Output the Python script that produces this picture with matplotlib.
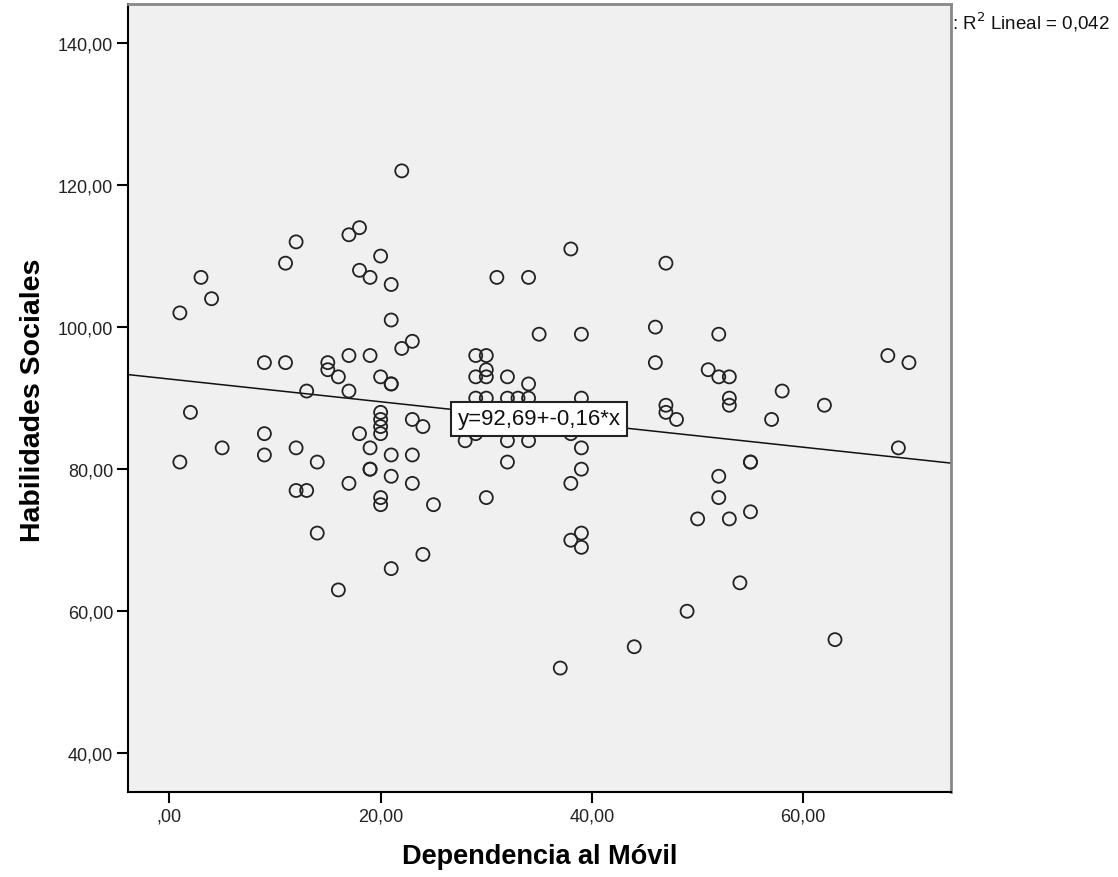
import matplotlib
matplotlib.use("Agg")
import matplotlib.pyplot as plt
import numpy as np

# ---- data ----
dependencia = [
    22, 18, 17, 12, 20, 11, 18, 19, 3, 21, 4, 1, 21, 22, 23, 9, 11, 15, 15, 16,
    17, 19, 20, 21, 21, 13, 17, 2, 20, 20, 20, 20, 23, 24, 9, 18, 5, 9, 12, 19,
    21, 23, 1, 14, 19, 19, 21, 23, 17, 12, 13, 20, 20, 14, 21, 16, 24, 25,
    38, 31, 34, 47, 35, 39, 46, 46, 29, 30, 30, 29, 30, 32, 34, 29, 30, 32, 33,
    34, 39, 28, 29, 32, 34, 38, 32, 30, 39, 39, 38, 39, 38, 39, 44, 37,
    31, 33, 36,
    52, 68, 70, 51, 52, 53, 58, 53, 53, 47, 47, 48, 62, 57, 69, 55, 55, 52, 52,
    55, 50, 53, 54, 49, 63,
]
habilidades = [
    122, 114, 113, 112, 110, 109, 108, 107, 107, 106, 104, 102, 101, 97, 98, 95, 95, 95, 94, 93,
    96, 96, 93, 92, 92, 91, 91, 88, 88, 87, 86, 85, 87, 86, 85, 85, 83, 82, 83, 83,
    82, 82, 81, 81, 80, 80, 79, 78, 78, 77, 77, 76, 75, 71, 66, 63, 68, 75,
    111, 107, 107, 109, 99, 99, 100, 95, 96, 96, 94, 93, 93, 93, 92, 90, 90, 90, 90,
    90, 90, 84, 85, 84, 84, 85, 81, 76, 83, 80, 78, 71, 70, 69, 55, 52,
    88, 87, 86,
    99, 96, 95, 94, 93, 93, 91, 90, 89, 89, 88, 87, 89, 87, 83, 81, 81, 79, 76,
    74, 73, 73, 64, 60, 56,
]
intercept = 92.69
slope = -0.16
r2 = "0,042"

x_ticks = [0, 20, 40, 60]
x_ticklabels = [",00", "20,00", "40,00", "60,00"]
y_ticks = [40, 60, 80, 100, 120, 140]
y_ticklabels = ["40,00", "60,00", "80,00", "100,00", "120,00", "140,00"]

W, H = 1118, 878
fig = plt.figure(figsize=(W / 100, H / 100), dpi=100)
fig.patch.set_facecolor("white")

L, R, T, B = 128.3, 950.7, 5, 793
ax = fig.add_axes([L / W, 1 - B / H, (R - L) / W, (B - T) / H])
ax.set_facecolor("#f0f0f0")
ax.set_xlim(-3.88, 73.95)
ax.set_ylim(34.55, 145.49)

ax.scatter(dependencia, habilidades, s=88, facecolors="none",
           edgecolors="#222222", linewidths=1.3, zorder=3)

ax.axline((0, intercept), slope=slope, color="#111111", lw=1.1, zorder=2)

tick_font = ["Liberation Sans Narrow", "Liberation Sans", "DejaVu Sans"]
ax.set_xticks(x_ticks)
ax.set_xticklabels(x_ticklabels, family=tick_font, fontsize=13, color="#222222")
ax.set_yticks(y_ticks)
ax.set_yticklabels(y_ticklabels, family=tick_font, fontsize=13, color="#222222")
ax.tick_params(direction="out", length=8, width=1.5, color="black", pad=3)

for s in ["left", "bottom"]:
    ax.spines[s].set_color("black")
    ax.spines[s].set_linewidth(1.5)
for s in ["top", "right"]:
    ax.spines[s].set_color("#888888")
    ax.spines[s].set_linewidth(2.0)

xc = 35
ax.text(xc, intercept + slope * xc, "y=92,69+-0,16*x", ha="center", va="center",
        family=tick_font, fontsize=16, color="#111111", zorder=5,
        bbox=dict(boxstyle="square,pad=0.28", fc="white", ec="#222222", lw=1.5))

fig.text((L + R) / 2 / W, 1 - 857 / H, "Dependencia al Móvil",
         ha="center", va="center", fontsize=19.5, fontweight="bold",
         family=["Liberation Sans", "DejaVu Sans"])
fig.text(33 / W, 1 - 400 / H, "Habilidades Sociales", rotation=90,
         ha="center", va="center", fontsize=20.5, fontweight="bold",
         family=["Liberation Sans", "DejaVu Sans"])

fig.text(952 / W, 1 - 22 / H, ": R$^2$ Lineal = " + r2, ha="left", va="center",
         fontsize=13.5, family=tick_font, color="#111111")

fig.savefig("out.png", dpi=100, facecolor="white")
